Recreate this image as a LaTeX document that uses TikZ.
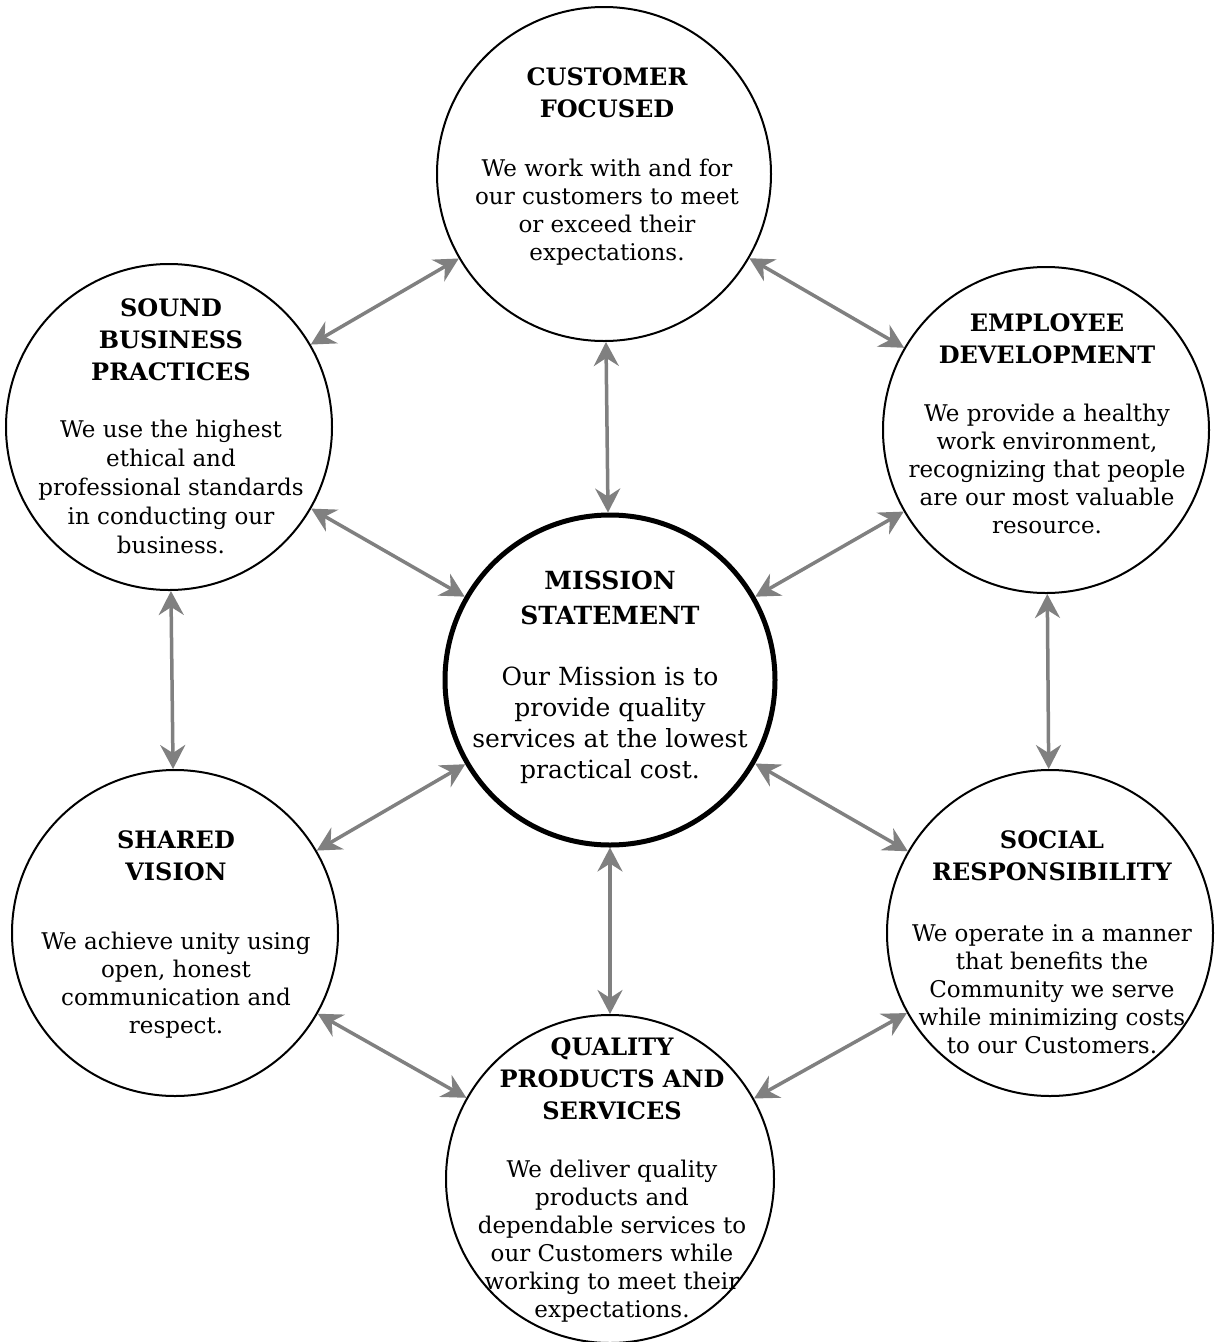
\documentclass[tikz,border=0pt]{standalone}
\usepackage{fontspec}
\setmainfont{DejaVu Serif}
\usetikzlibrary{arrows.meta}
\definecolor{arrowgray}{HTML}{808080}
\begin{document}
\begin{tikzpicture}[x=1pt,y=-1pt,
  circ/.style={draw, circle, line width=2pt, inner sep=0pt},
  ttl/.style={font=\bfseries\fontsize{24}{32}\selectfont, align=center, anchor=base, inner sep=0pt},
  bdy/.style={font=\fontsize{23}{28}\selectfont, align=center, anchor=base, inner sep=0pt},
  tip/.tip={Stealth[length=24pt,width=25pt,inset=8pt]},
  link/.style={draw=arrowgray, line width=3.5pt, tip-tip}]
\fill[white] (0,0) rectangle (1215,1342);
\useasboundingbox (0,0) rectangle (1215,1342);
% circles
\node[circ, minimum size=334pt] (cust) at (604,174) {};
\node[circ, minimum size=326pt] (sound) at (169,427) {};
\node[circ, minimum size=326pt] (empl) at (1046,430) {};
\node[circ, minimum size=326pt] (shared) at (175,933) {};
\node[circ, minimum size=326pt] (social) at (1050,933) {};
\node[circ, minimum size=328pt] (qual) at (610,1179) {};
\node[circ, line width=5pt, minimum size=330pt] (mission) at (610,680) {};
% texts (anchored at the baseline of the last line)
\node[ttl] (custT) at (607,117) {CUSTOMER\\FOCUSED};
\node[bdy] (custB) at (607,260) {We work with and for\\our customers to meet\\or exceed their\\expectations.};
\node[ttl, font=\bfseries\fontsize{25}{35}\selectfont] (misT) at (610,624) {MISSION\\STATEMENT};
\node[bdy, font=\fontsize{25}{31}\selectfont] (misB) at (610,778) {Our Mission is to\\provide quality\\services at the lowest\\practical cost.};
\node[ttl] (soundT) at (171,380) {SOUND\\BUSINESS\\PRACTICES};
\node[bdy, font=\fontsize{23}{29}\selectfont] (soundB) at (171,553) {We use the highest\\ethical and\\professional standards\\in conducting our\\business.};
\node[ttl] (emplT) at (1047,363) {EMPLOYEE\\DEVELOPMENT};
\node[bdy] (emplB) at (1047,533) {We provide a healthy\\work environment,\\recognizing that people\\are our most valuable\\resource.};
\node[ttl] (sharedT) at (176,880) {SHARED\\VISION};
\node[bdy] (sharedB) at (176,1033) {We achieve unity using\\open, honest\\communication and\\respect.};
\node[ttl] (socialT) at (1052,880) {SOCIAL\\RESPONSIBILITY};
\node[bdy] (socialB) at (1052,1053) {We operate in a manner\\that benefits the\\Community we serve\\while minimizing costs\\to our Customers.};
\node[ttl] (qualT) at (612,1119) {QUALITY\\PRODUCTS AND\\SERVICES};
\node[bdy] (qualB) at (612,1317) {We deliver quality\\products and\\dependable services to\\our Customers while\\working to meet their\\expectations.};
% connectors
\draw[link] (mission) -- (cust);
\draw[link] (mission) -- (sound);
\draw[link] (mission) -- (empl);
\draw[link] (mission) -- (shared);
\draw[link] (mission) -- (social);
\draw[link] (mission) -- (qual);
\draw[link] (cust) -- (sound);
\draw[link] (cust) -- (empl);
\draw[link] (sound) -- (shared);
\draw[link] (empl) -- (social);
\draw[link] (shared) -- (qual);
\draw[link] (social) -- (qual);
\end{tikzpicture}
\end{document}
